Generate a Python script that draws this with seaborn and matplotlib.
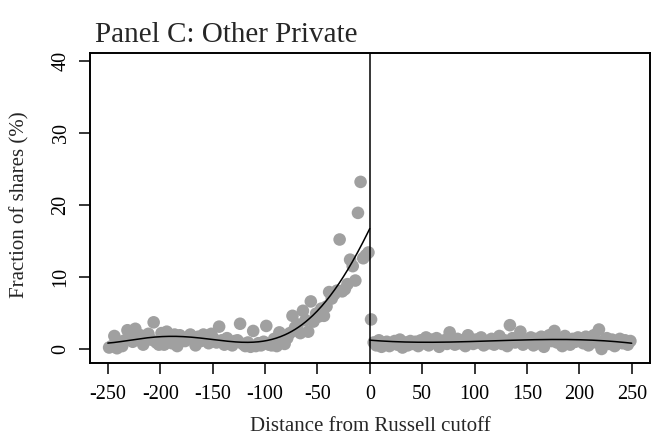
import numpy as np
import pandas as pd
import matplotlib
matplotlib.use("Agg")
import matplotlib.pyplot as plt
import seaborn as sns

# ---- data ----
left_x = [-248.75 + 2.5 * k for k in range(100)]
left_y = [0.2, 0.4, 1.8, 0.1, 1.0, 0.4, 1.2, 2.6, 1.5, 1.0,
          2.8, 1.4, 1.9, 0.6, 1.6, 2.1, 1.3, 3.7, 0.9, 0.6,
          2.2, 0.6, 2.4, 1.7, 0.8, 2.0, 0.4, 1.9, 1.4, 1.1,
          1.4, 2.0, 1.6, 0.5, 1.7, 1.1, 2.0, 1.4, 0.8, 2.1,
          1.4, 0.9, 3.1, 1.2, 0.6, 1.5, 1.0, 0.5, 1.1, 1.2,
          3.5, 0.7, 0.4, 0.9, 0.3, 2.5, 0.4, 0.8, 0.5, 1.0,
          3.2, 0.6, 0.5, 1.4, 0.4, 2.3, 1.0, 0.7, 1.5, 2.2,
          4.6, 3.0, 3.4, 2.2, 5.3, 4.0, 2.4, 6.6, 3.8, 4.9,
          4.5, 5.6, 4.6, 5.9, 7.9, 7.0, 7.6, 8.1, 15.2, 8.0,
          8.3, 9.0, 12.4, 11.5, 9.5, 18.9, 23.2, 12.6, 13.0, 13.4]
right_x = [1.25 + 2.5 * k for k in range(100)]
right_y = [4.1, 0.9, 0.5, 1.2, 0.3, 0.8, 1.0, 0.4, 0.7, 1.1,
           0.6, 1.3, 0.2, 0.9, 0.5, 1.1, 0.7, 1.0, 0.4, 1.2,
           0.8, 1.6, 0.5, 1.3, 0.9, 1.5, 0.3, 1.0, 1.2, 0.7,
           2.3, 1.1, 0.6, 1.4, 0.8, 1.2, 0.4, 1.9, 1.0, 0.7,
           1.3, 0.9, 1.6, 0.5, 1.1, 0.8, 1.4, 0.6, 1.0, 1.8,
           0.7, 1.2, 0.4, 3.3, 1.5, 0.9, 1.3, 2.4, 0.6, 1.1,
           1.0, 1.6, 0.5, 1.4, 0.8, 1.7, 0.3, 1.2, 1.9, 1.1,
           2.5, 0.9, 1.5, 0.4, 1.8, 1.2, 0.6, 1.4, 1.0, 1.6,
           1.3, 0.8, 1.7, 0.5, 1.1, 1.9, 0.9, 2.7, 0.0, 1.2,
           1.5, 0.7, 1.3, 0.4, 1.0, 1.4, 0.8, 1.2, 0.6, 1.1]
fit_order = {"left": 5, "right": 3}
fit_range = {"left": (-250, 0), "right": (0, 250)}
x_ticks = [-250, -200, -150, -100, -50, 0, 50, 100, 150, 200, 250]
y_ticks = [0, 10, 20, 30, 40]
title = "Panel C: Other Private"
x_label = "Distance from Russell cutoff"
y_label = "Fraction of shares (%)"

df = pd.DataFrame({
    "x": left_x + right_x,
    "y": left_y + right_y,
    "side": ["left"] * len(left_x) + ["right"] * len(right_x),
})

# polynomial fit on each side of the cutoff
fits = []
for side in ["left", "right"]:
    sub = df[df["side"] == side]
    coef = np.polyfit(sub["x"], sub["y"], fit_order[side])
    gx = np.linspace(*fit_range[side], 300)
    fits.append(pd.DataFrame({"x": gx, "y": np.polyval(coef, gx), "side": side}))
fit_df = pd.concat(fits, ignore_index=True)

sns.set_style("white")
plt.rcParams["font.family"] = ["Liberation Serif", "DejaVu Serif"]
plt.rcParams["axes.unicode_minus"] = False

fig = plt.figure(figsize=(6.52, 4.44), dpi=100)
ax = fig.add_axes([90 / 652, 1 - 363 / 444, 559.5 / 652, (363 - 53) / 444])

sns.scatterplot(data=df, x="x", y="y", ax=ax, color="#a0a0a0", s=82,
                edgecolor="none", linewidth=0, zorder=2)
sns.lineplot(data=fit_df, x="x", y="y", units="side", estimator=None,
             ax=ax, color="black", lw=1.1, zorder=3, sort=False)

ax.axvline(0, color="black", lw=1.1, zorder=4)

ax.set_xlim(-267, 267)
ax.set_ylim(-1.95, 41.1)
ax.set_xticks(x_ticks)
ax.set_xticklabels([str(t) for t in x_ticks])
ax.set_yticks(y_ticks)
ax.set_yticklabels([str(t) for t in y_ticks], rotation=90, va="center")
ax.tick_params(axis="both", direction="out", length=8, width=1.1,
               color="black", labelsize=14.5, labelcolor="black")
ax.tick_params(axis="x", pad=8)
ax.tick_params(axis="y", pad=6)
ax.xaxis.set_ticks_position("bottom")
ax.yaxis.set_ticks_position("left")
for sp in ax.spines.values():
    sp.set_visible(True)
    sp.set_color("black")
    sp.set_linewidth(1.4)

ax.set_xlabel("")
ax.set_ylabel("")
fig.text(370 / 652, 1 - 426 / 444, x_label, ha="center", va="center", fontsize=15)
fig.text(20 / 652, 1 - 205 / 444, y_label, ha="center", va="center",
         rotation=90, fontsize=15)
fig.text(95 / 652, 1 - 42 / 444, title, ha="left", va="baseline", fontsize=21)

fig.savefig("out.png", dpi=100)
